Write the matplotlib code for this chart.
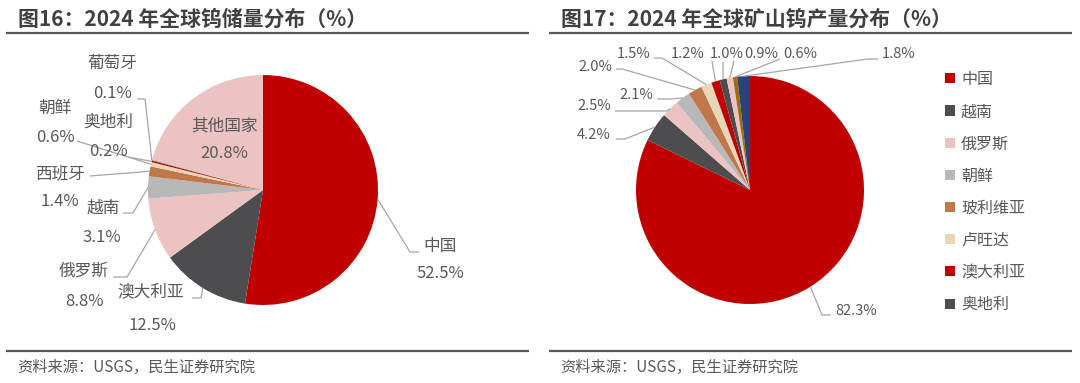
import matplotlib
matplotlib.use("Agg")
import matplotlib.pyplot as plt

plt.rcParams['font.family'] = ['Noto Sans CJK SC', 'DejaVu Sans']

# figure 16: global tungsten reserves 2024 (%)
res_names = ['中国', '澳大利亚', '俄罗斯', '越南', '西班牙', '朝鲜', '奥地利', '葡萄牙', '其他国家']
res_share = [52.5, 12.5, 8.8, 3.1, 1.4, 0.6, 0.2, 0.1, 20.8]

# figure 17: global tungsten mine production 2024 (%)
prod_names = ['中国', '越南', '俄罗斯', '朝鲜', '玻利维亚', '卢旺达', '澳大利亚', '奥地利',
              '西班牙', '葡萄牙', '其他国家']
prod_share = [82.3, 4.2, 2.5, 2.1, 2.0, 1.5, 1.2, 1.0, 0.9, 0.6, 1.8]
prod_legend_n = 8   # only the first 8 entries fit in the legend

titles = ['图16：2024 年全球钨储量分布（%）', '图17：2024 年全球矿山钨产量分布（%）']
source = '资料来源：USGS，民生证券研究院'

RED, DK, PINK, LT = '#C00000', '#4D4D4F', '#EBC3C3', '#B8B8B8'
BR, CR, GOLD, NAVY = '#C0774A', '#E9D6B6', '#9E6C00', '#264478'
res_colors = [RED, DK, PINK, LT, BR, CR, RED, DK, PINK]
prod_colors = [RED, DK, PINK, LT, BR, CR, RED, DK, PINK, GOLD, NAVY]
TXT = '#595959'
LEAD = '#A6A6A6'

W, H = 1080, 383


def Y(y):
    # pixel row (from top) -> data y
    return H - y


fig = plt.figure(figsize=(W / 100, H / 100), dpi=100)
ax = fig.add_axes([0, 0, 1, 1])

# ---- pies ----
res_wedges, _ = ax.pie(res_share, colors=res_colors, startangle=90, counterclock=False,
                       center=(263, Y(190)), radius=115, frame=True,
                       wedgeprops=dict(linewidth=0))
prod_wedges, _ = ax.pie(prod_share, colors=prod_colors, startangle=90, counterclock=False,
                        center=(750, Y(190)), radius=114, frame=True,
                        wedgeprops=dict(linewidth=0))


def anchor(w):
    import numpy as np
    t = np.deg2rad((w.theta1 + w.theta2) / 2)
    return w.center[0] + w.r * np.cos(t), w.center[1] + w.r * np.sin(t)


def leader(w, pts):
    x0, y0 = anchor(w)
    xs = [x0] + [p[0] for p in pts]
    ys = [y0] + [Y(p[1]) for p in pts]
    ax.plot(xs, ys, color=LEAD, lw=0.9, solid_capstyle='butt')


# left pie labels: name centre, value centre, leader points (pixels from top-left)
res_name_pos = [(440, 246), (151, 292), (84, 271), (103, 208), (60, 174),
                (55, 108), (108, 122), (112, 63), (225, 126)]
res_val_pos = [(440, 274), (152, 325), (84, 301), (102, 238), (60, 202),
               (55, 137), (108, 152), (113, 93), (224, 154)]
res_leads = [[(410, 252), (419, 252)], [(201, 298), (192, 298)], [(127, 277), (113, 277)],
             [(133, 213), (123, 213)], [(90, 176)], [(77, 141)], [(128, 157)],
             [(145, 99), (137, 99)], None]

for i, w in enumerate(res_wedges):
    nx, ny = res_name_pos[i]
    vx, vy = res_val_pos[i]
    ax.text(nx, Y(ny), res_names[i], ha='center', va='center', fontsize=12, color=TXT)
    ax.text(vx, Y(vy), f'{res_share[i]:.1f}%', ha='center', va='center', fontsize=12, color=TXT)
    if res_leads[i]:
        leader(w, res_leads[i])

# right pie labels
prod_val_pos = [(856, 311), (594, 135), (594, 106), (636, 95), (595, 67), (634, 54),
                (688, 54), (727, 54), (761, 54), (800, 54), (899, 54)]
prod_leads = [[(822, 315), (831, 315)], [(625, 139), (616, 139)], [(667, 111), (615, 111)],
              [(672, 99), (657, 99)], [(622, 69), (616, 69)], [(662, 58), (654, 58)],
              [(712, 61)], [(723, 62)], [(734, 61)], [(780, 59)], [(868, 59), (878, 59)]]

for i, w in enumerate(prod_wedges):
    vx, vy = prod_val_pos[i]
    ax.text(vx, Y(vy), f'{prod_share[i]:.1f}%', ha='center', va='center', fontsize=10.5, color=TXT)
    leader(w, prod_leads[i])

leg = ax.legend(prod_wedges[:prod_legend_n], prod_names[:prod_legend_n],
                loc='upper left', bbox_to_anchor=(945 / W, 1 - 71 / H), frameon=False,
                fontsize=11.5, handlelength=0.6, handleheight=0.6, handletextpad=0.4,
                labelspacing=0.95, borderpad=0, borderaxespad=0)
for t in leg.get_texts():
    t.set_color(TXT)

# ---- titles, rules and source notes ----
for x0, x1, tx, title in [(6, 529, 18, titles[0]), (549, 1072, 561, titles[1])]:
    ax.text(tx, Y(19), title, ha='left', va='center', fontsize=15, fontweight='bold',
            color='#404040')
    ax.plot([x0, x1], [Y(33), Y(33)], color='#595959', lw=1.6, solid_capstyle='butt')
    ax.plot([x0, x1], [Y(351), Y(351)], color='#595959', lw=1.6, solid_capstyle='butt')
    ax.text(tx - 1, Y(367), source, ha='left', va='center', fontsize=11, color=TXT)

ax.set_xlim(0, W)
ax.set_ylim(0, H)
ax.set_aspect('equal')
ax.axis('off')

fig.savefig('out.png', dpi=100)
